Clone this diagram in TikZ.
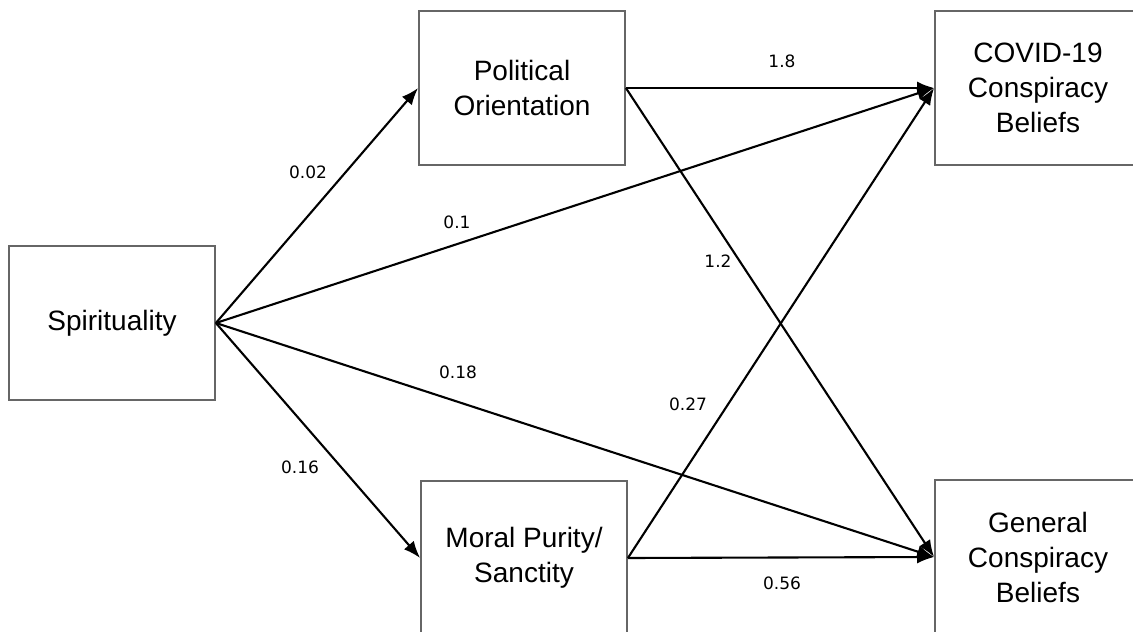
\documentclass[tikz,border=0pt]{standalone}
\usepackage{fontspec}
\setmainfont{Liberation Sans}
\newfontfamily\numfont{DejaVu Sans}
\usetikzlibrary{positioning, arrows.meta}

\tikzset{
  var/.style={draw=black!60, line width=1.8pt, minimum width=206pt, minimum height=154pt,
    align=center, font=\fontsize{28}{35}\selectfont},
  link/.style={line width=2.1pt, -{Latex[length=17pt, width=13pt]}},
  coef/.style={font=\numfont\fontsize{17}{19}\selectfont}
}

\begin{document}
\begin{tikzpicture}[x=1pt, y=-1pt]
\useasboundingbox (0,0) rectangle (1133,632);
% variables
\node[var] (spir) at (112,323) {Spirituality};
\node[var] (pol) at (522,88) {Political\\Orientation};
\node[var] (moral) at (524,558) {Moral Purity/\\Sanctity};
\node[var] (covid) at (1038,88) {COVID-19\\Conspiracy\\Beliefs};
\node[var] (gen) at (1038,557) {General\\Conspiracy\\Beliefs};
% paths
\draw[link] (spir.east) -- (pol.west);
\draw[link] (spir.east) -- (moral.west);
\draw[link] (spir.east) -- (covid.west);
\draw[link] (spir.east) -- (gen.west);
\draw[link] (pol.east) -- (covid.west);
\draw[link] (pol.east) -- (gen.west);
\draw[link] (moral.east) -- (covid.west);
\draw[link] (moral.east) -- (gen.west);
% coefficients
\node[coef] (b1) at (308,172) {0.02};
\node[coef] (b2) at (457,222) {0.1};
\node[coef] (b3) at (782,61) {1.8};
\node[coef] (b4) at (718,261) {1.2};
\node[coef] (b5) at (458,372) {0.18};
\node[coef] (b6) at (688,404) {0.27};
\node[coef] (b7) at (300,467) {0.16};
\node[coef] (b8) at (782,583) {0.56};
\end{tikzpicture}
\end{document}
